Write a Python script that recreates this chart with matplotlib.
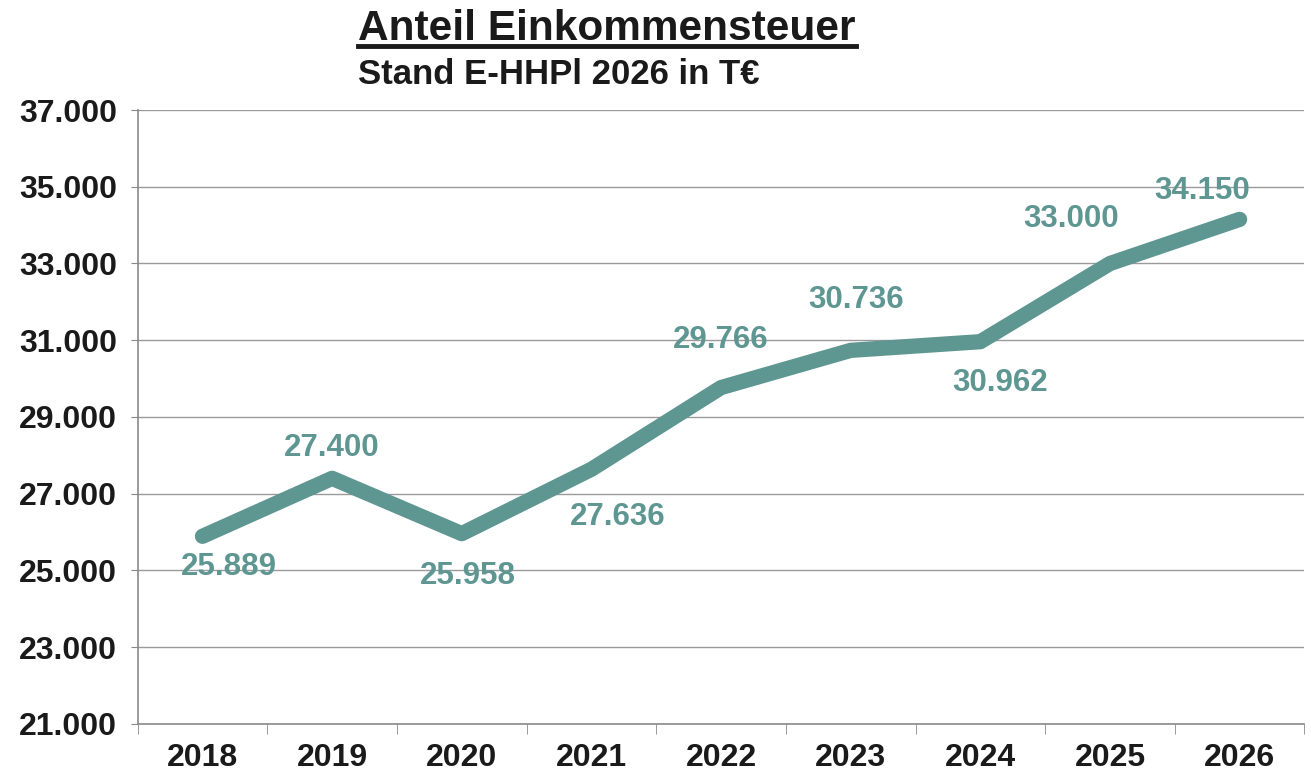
import matplotlib
matplotlib.use("Agg")
import matplotlib.pyplot as plt
from matplotlib.ticker import FuncFormatter, FixedLocator
from matplotlib.lines import Line2D

years = ["2018", "2019", "2020", "2021", "2022", "2023", "2024", "2025", "2026"]
values = [25889, 27400, 25958, 27636, 29766, 30736, 30962, 33000, 34150]
label_dy = [-800, 800, -1100, -1250, 1250, 1300, -1070, 1150, 730]
label_dx = [0.2, 0, 0.05, 0.2, 0, 0.04, 0.15, -0.3, -0.29]
title = "Anteil Einkommensteuer"
subtitle = "Stand E-HHPl 2026 in T€"

teal = "#5e9692"
font = "Liberation Sans"

fig = plt.figure(figsize=(13.11, 7.75), dpi=100)
ax = fig.add_axes([0.105, 0.066, 0.89, 0.792])

x = list(range(len(years)))
ax.plot(x, values, color=teal, lw=11, solid_capstyle="round", solid_joinstyle="round", zorder=3)

for i, v in enumerate(values):
    txt = f"{v:,}".replace(",", ".")
    ax.text(i + label_dx[i], v + label_dy[i], txt, color=teal, fontsize=22.5, fontweight="bold",
            family=font, ha="center", va="center", zorder=4)

ax.set_xlim(-0.5, len(years) - 0.5)
ax.set_ylim(21000, 37000)
ax.yaxis.set_major_locator(FixedLocator(list(range(21000, 37001, 2000))))
ax.yaxis.set_major_formatter(FuncFormatter(lambda v, p: f"{int(v):,}".replace(",", ".")))
ax.set_xticks(x)
ax.set_xticklabels(years)
ax.xaxis.set_minor_locator(FixedLocator([i - 0.5 for i in range(len(years) + 1)]))
ax.tick_params(axis="x", which="major", length=0, pad=14)
ax.tick_params(axis="x", which="minor", length=7, color="#888888", direction="out")
ax.tick_params(axis="y", length=5, color="#888888", pad=10)
for lab in ax.get_xticklabels() + ax.get_yticklabels():
    lab.set_fontfamily(font)
    lab.set_fontweight("bold")
    lab.set_fontsize(23)
    lab.set_color("#1a1a1a")

ax.grid(axis="y", color="#9a9a9a", lw=1.0)
ax.set_axisbelow(True)
for s in ["top", "right"]:
    ax.spines[s].set_visible(False)
for s in ["left", "bottom"]:
    ax.spines[s].set_color("#8a8a8a")
    ax.spines[s].set_linewidth(1.2)

t = fig.text(358 / 1311, 1 - 40 / 775, title, fontsize=30.5, fontweight="bold", family=font,
             ha="left", va="baseline", color="#1a1a1a")
fig.text(358 / 1311, 1 - 75 / 775, subtitle, fontsize=25, fontweight="bold", family=font,
         ha="left", va="center", color="#1a1a1a")

fig.canvas.draw()
bb = t.get_window_extent().transformed(fig.transFigure.inverted())
yl = 1 - 46 / 775
fig.add_artist(Line2D([bb.x0, bb.x1], [yl, yl], color="#1a1a1a", lw=3.5,
                      transform=fig.transFigure))

fig.savefig("out.png", dpi=100, facecolor="white")
